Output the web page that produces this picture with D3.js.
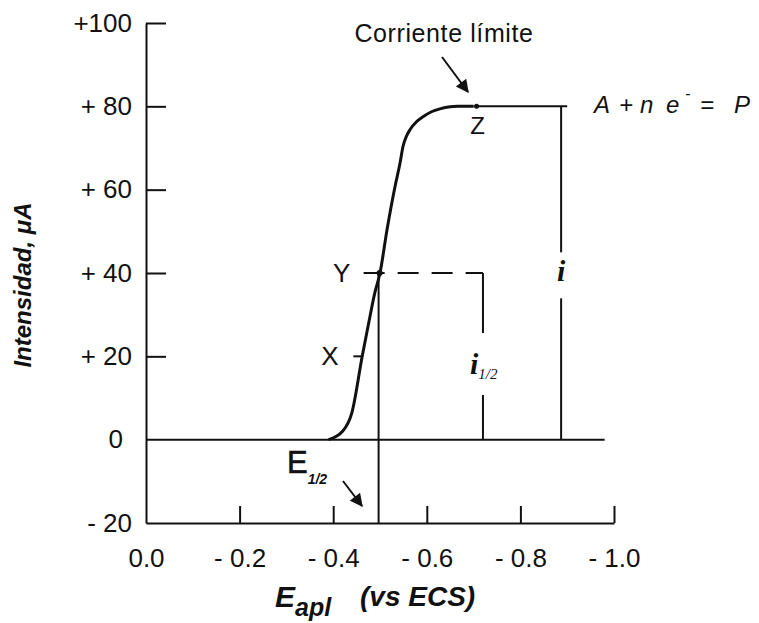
<!DOCTYPE html>
<html>
<head>
<meta charset="utf-8">
<script src="https://cdn.jsdelivr.net/npm/d3@7"></script>
<style>
  html, body { margin: 0; padding: 0; background: #fff; }
  svg { display: block; }
  text { fill: #111; }
</style>
</head>
<body>
<svg id="chart" width="759" height="623"></svg>
<script>
// Polarographic wave: current vs applied potential
const potential = [-0.39, -0.42, -0.44, -0.462, -0.475, -0.489, -0.50, -0.515, -0.532, -0.543, -0.549, -0.556, -0.564, -0.578, -0.592, -0.61, -0.628, -0.65, -0.665, -0.70];
const current   = [0, 2, 6.5, 20, 27.5, 35.3, 40, 50.4, 60.7, 66.5, 70.3, 72.7, 74.4, 76.3, 77.5, 78.7, 79.4, 79.9, 80, 80];

const xTicks      = [0, -0.2, -0.4, -0.6, -0.8, -1.0];
const xTickLabels = ["0.0", "- 0.2", "- 0.4", "- 0.6", "- 0.8", "- 1.0"];
const yTicks      = [100, 80, 60, 40, 20, 0, -20];
const yTickLabels = ["+100", "+ 80", "+ 60", "+ 40", "+ 20", "0", "- 20"];

// Key values of the wave
const limitCurrent = 80;      // i (corriente límite)
const halfCurrent  = 40;      // i 1/2
const eHalf        = -0.497;  // E 1/2
const zPotential   = -0.70;   // point Z
const xMarkCurrent = 20;      // point X
const iHalfAt      = -0.72;   // position of the i 1/2 bracket
const iAt          = -0.887;  // position of the i bracket
const limitEnd     = -0.90;   // end of the limiting-current plateau
const zeroEnd      = -0.98;   // end of the zero-current line

const svg = d3.select("#chart");
const x = d3.scaleLinear().domain([0, -1.0]).range([146, 614]);
const y = d3.scaleLinear().domain([-20, 100]).range([523, 23]);

const sans = "'Liberation Sans', Arial, sans-serif";
const serif = "'Liberation Serif', 'Times New Roman', serif";

// arrowhead
svg.append("defs").append("marker")
  .attr("id", "head").attr("markerUnits", "userSpaceOnUse")
  .attr("viewBox", "0 0 10 10").attr("refX", 9).attr("refY", 5)
  .attr("markerWidth", 15).attr("markerHeight", 13).attr("orient", "auto")
  .append("path").attr("d", "M0,0 L10,5 L0,10 Z").attr("fill", "#111");

// Y axis
const yAxis = svg.append("g").attr("transform", `translate(${x(0)},0)`)
  .call(d3.axisLeft(y).tickValues(yTicks).tickSize(-20).tickSizeOuter(0).tickPadding(14)
    .tickFormat((d, i) => yTickLabels[i]));
yAxis.selectAll(".tick line").filter(d => d === 0 || d === -20).remove();
yAxis.selectAll(".tick text").filter(d => d === 0).attr("dx", -9);

// X axis
const xAxis = svg.append("g").attr("transform", `translate(0,${y(-20)})`)
  .call(d3.axisBottom(x).tickValues(xTicks).tickSize(-17).tickSizeOuter(0).tickPadding(26)
    .tickFormat((d, i) => xTickLabels[i]));
xAxis.selectAll(".tick line").filter(d => d === 0).remove();

svg.selectAll(".domain, .tick line").attr("stroke", "#111").attr("stroke-width", 2);
svg.selectAll(".tick text").attr("font-family", sans).attr("font-size", 26).attr("fill", "#111");
svg.selectAll("g").attr("font-family", null);

const lineAttrs = sel => sel.attr("stroke", "#111").attr("stroke-width", 2).attr("fill", "none");

// zero-current line
svg.append("line").call(lineAttrs)
  .attr("x1", x(0)).attr("x2", x(zeroEnd)).attr("y1", y(0)).attr("y2", y(0));

// limiting-current plateau
svg.append("line").call(lineAttrs)
  .attr("x1", x(zPotential)).attr("x2", x(limitEnd)).attr("y1", y(limitCurrent)).attr("y2", y(limitCurrent));

// i bracket (split around its label)
svg.append("line").call(lineAttrs)
  .attr("x1", x(iAt)).attr("x2", x(iAt)).attr("y1", y(limitCurrent)).attr("y2", y(limitCurrent) + 146);
svg.append("line").call(lineAttrs)
  .attr("x1", x(iAt)).attr("x2", x(iAt)).attr("y1", y(limitCurrent) + 192).attr("y2", y(0));

// half-wave dashed level and i 1/2 bracket
svg.append("line").call(lineAttrs).attr("stroke-dasharray", "21,13")
  .attr("x1", x(-0.465)).attr("x2", x(iHalfAt)).attr("y1", y(halfCurrent)).attr("y2", y(halfCurrent));
svg.append("line").call(lineAttrs)
  .attr("x1", x(iHalfAt)).attr("x2", x(iHalfAt)).attr("y1", y(halfCurrent)).attr("y2", y(halfCurrent) + 60);
svg.append("line").call(lineAttrs)
  .attr("x1", x(iHalfAt)).attr("x2", x(iHalfAt)).attr("y1", y(halfCurrent) + 122).attr("y2", y(0));

// E 1/2 vertical
svg.append("line").call(lineAttrs)
  .attr("x1", x(eHalf)).attr("x2", x(eHalf)).attr("y1", y(halfCurrent)).attr("y2", y(-20));

// the wave
const line = d3.line().x((d, i) => x(potential[i])).y(d => y(d)).curve(d3.curveMonotoneX);
svg.append("path").datum(current).attr("d", line)
  .attr("stroke", "#111").attr("stroke-width", 3).attr("fill", "none");

// point markers
svg.append("circle").attr("cx", x(eHalf) + 1).attr("cy", y(halfCurrent)).attr("r", 3).attr("fill", "#111");
svg.append("circle").attr("cx", x(zPotential) + 3).attr("cy", y(limitCurrent)).attr("r", 2.5).attr("fill", "#111");
svg.append("line").call(lineAttrs)
  .attr("x1", x(-0.443)).attr("x2", x(-0.462)).attr("y1", y(xMarkCurrent)).attr("y2", y(xMarkCurrent));

// labels
const label = (tx, ty, str, size, opts = {}) => svg.append("text")
  .attr("x", tx).attr("y", ty).attr("font-family", opts.family || sans)
  .attr("font-size", size).attr("font-style", opts.style || "normal")
  .attr("font-weight", opts.weight || "normal")
  .attr("text-anchor", opts.anchor || "middle").text(str);

label(x(-0.418), y(halfCurrent) + 9, "Y", 26);
label(x(-0.393), y(xMarkCurrent) + 9, "X", 26);
label(x(zPotential) + 4, y(limitCurrent) + 28, "Z", 24);

label(444, 42, "Corriente límite", 25).attr("letter-spacing", 0.6);
svg.append("line").attr("x1", 442).attr("y1", 57).attr("x2", 468).attr("y2", 92)
  .attr("stroke", "#111").attr("stroke-width", 2).attr("marker-end", "url(#head)");

// reaction
const rx = svg.append("text").attr("y", 113).attr("font-family", sans)
  .attr("font-size", 24).attr("font-style", "italic");
[["A", 594], ["+", 619], ["n", 640], ["e", 666], ["=", 700], ["P", 734]].forEach(([s, px]) =>
  rx.append("tspan").attr("x", px).text(s));
svg.append("text").attr("x", 685).attr("y", 99).attr("font-family", sans)
  .attr("font-size", 16).attr("font-style", "italic").text("-");

// i and i 1/2
label(x(iAt), 281, "i", 30, { family: serif, style: "italic", weight: "bold" });
const ih = svg.append("text").attr("x", 470).attr("y", 374).attr("font-family", serif)
  .attr("font-style", "italic").attr("font-weight", "bold");
ih.append("tspan").attr("font-size", 30).text("i");
ih.append("tspan").attr("font-size", 15).attr("dy", 5).attr("font-weight", "normal").text("1/2");

// E 1/2 with arrow
const eh = svg.append("text").attr("x", 287).attr("y", 473).attr("font-family", sans);
eh.append("tspan").attr("font-size", 31).attr("stroke", "#111").attr("stroke-width", 0.6).text("E");
eh.append("tspan").attr("font-size", 14).attr("dy", 11).attr("font-style", "italic")
  .attr("font-weight", "bold").text("1/2");
svg.append("line").attr("x1", 343).attr("y1", 481).attr("x2", 362).attr("y2", 506)
  .attr("stroke", "#111").attr("stroke-width", 2).attr("marker-end", "url(#head)");

// axis titles
const xt = svg.append("text").attr("x", 275).attr("y", 607).attr("font-family", sans)
  .attr("font-style", "italic").attr("font-weight", "bold");
xt.append("tspan").attr("font-size", 30).text("E");
xt.append("tspan").attr("font-size", 25).attr("dy", 9).text("apl");
svg.append("text").attr("x", 360).attr("y", 606).attr("font-family", sans)
  .attr("font-style", "italic").attr("font-weight", "bold").attr("font-size", 28).text("(vs ECS)");

svg.append("text").attr("transform", "translate(31,285) rotate(-90)")
  .attr("text-anchor", "middle").attr("font-family", sans)
  .attr("font-style", "italic").attr("font-weight", "bold").attr("font-size", 24)
  .text("Intensidad, μA");
</script>
</body>
</html>
